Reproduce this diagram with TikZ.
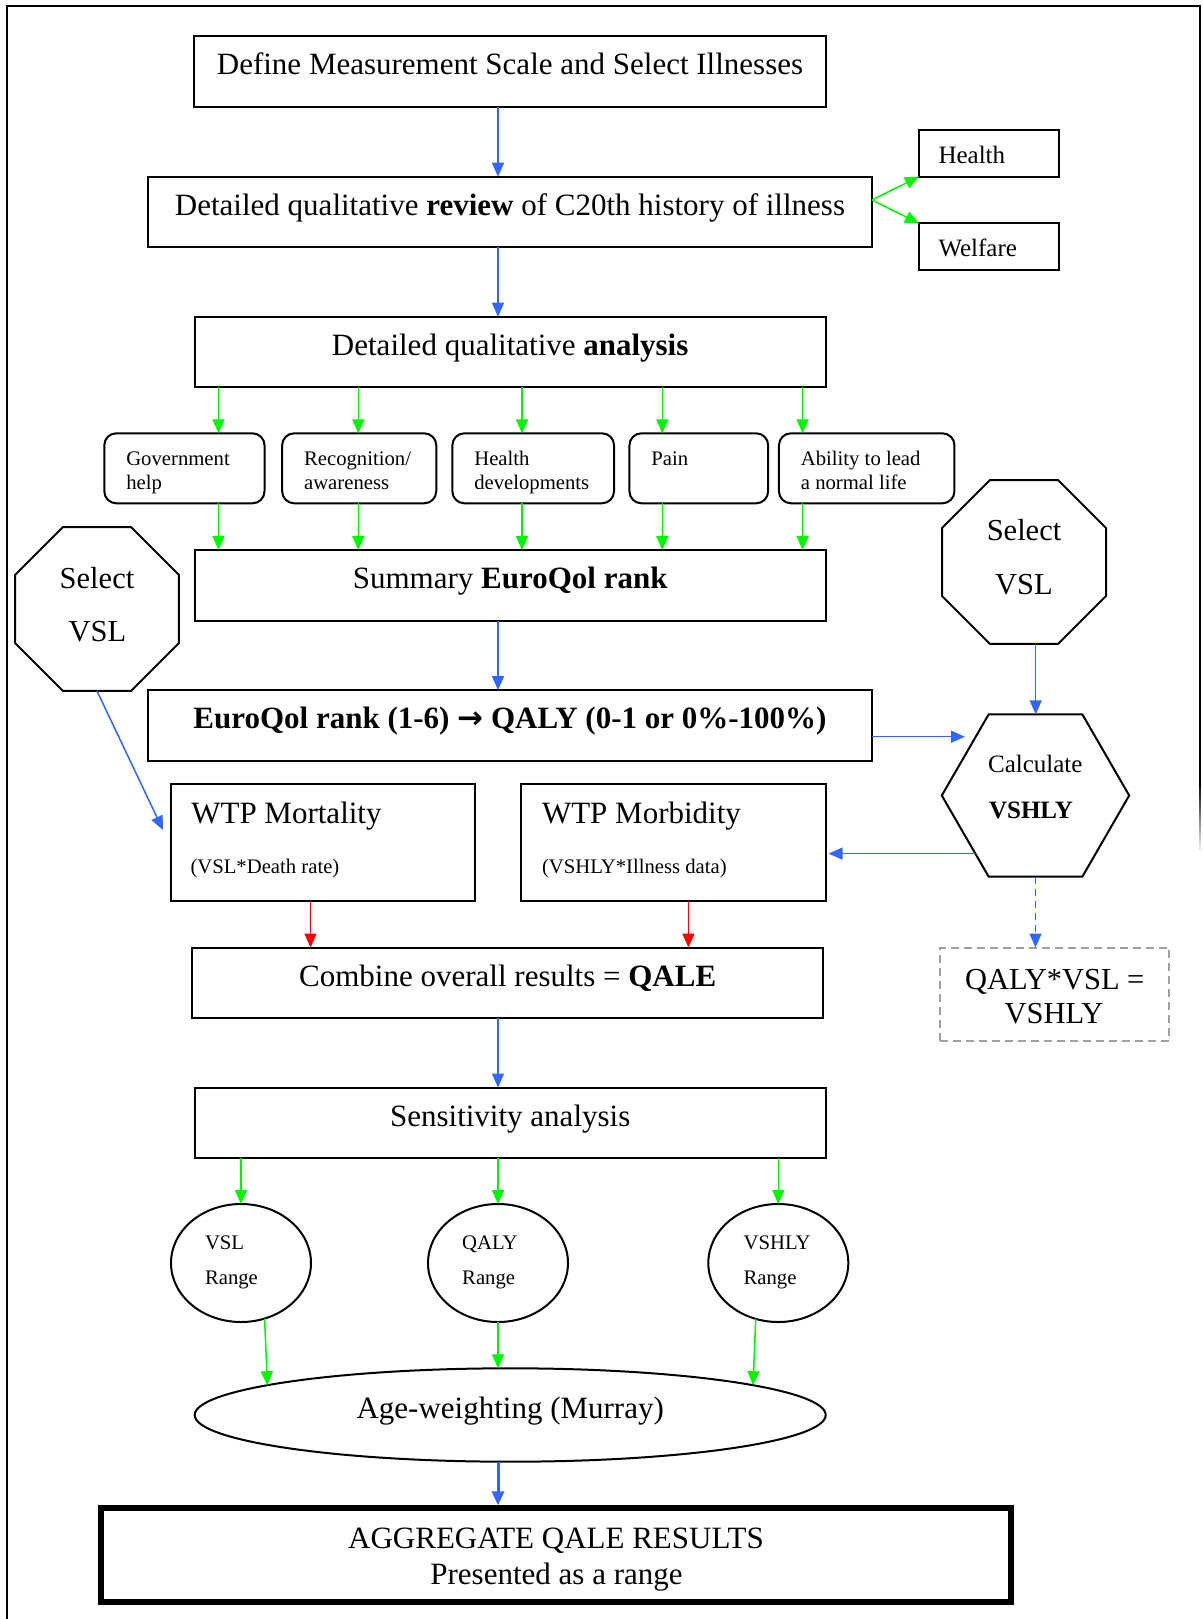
\documentclass[tikz,border=0pt]{standalone}
\usepackage{fontspec}
\setmainfont{Liberation Serif}
\newfontfamily\djv{DejaVu Sans}
\usetikzlibrary{arrows.meta,shapes.geometric,calc}
\definecolor{ablue}{RGB}{51,102,255}
\definecolor{agreen}{RGB}{0,245,0}
\definecolor{ared}{RGB}{255,0,0}
\definecolor{dgray}{RGB}{160,160,160}
\newcommand\ftbig{\fontsize{31}{37}\selectfont}
\newcommand\ftsel{\fontsize{30.5}{36}\selectfont}
\newcommand\ftmid{\fontsize{25}{30}\selectfont}
\newcommand\ftsm{\fontsize{20.7}{24}\selectfont}
\begin{document}
\begin{tikzpicture}[x=1pt,y=-1pt,
  mybox/.style={draw=black, line width=2pt, rectangle, inner sep=0pt, outer sep=0pt},
  myrbox/.style={mybox, rounded corners=12pt},
  mybig/.style={font=\ftbig, text height=21pt, text depth=14pt},
  myln/.style={anchor=base west, inner sep=0pt, outer sep=0pt},
  mylnc/.style={anchor=base, inner sep=0pt, outer sep=0pt},
  myoct/.style={draw=black, line width=2pt, regular polygon, regular polygon sides=8, minimum size=177.5pt, inner sep=0pt, outer sep=0pt},
  myhex/.style={draw=black, line width=2pt, regular polygon, regular polygon sides=6, minimum size=187.4pt, inner sep=0pt, outer sep=0pt},
  myell/.style={draw=black, line width=2pt, ellipse, inner sep=0pt, outer sep=0pt},
  myarr/.style={-{Triangle[length=14pt,width=12pt]}, line width=1.5pt},
  barr/.style={myarr, color=ablue},
  garr/.style={myarr, color=agreen},
  rarr/.style={myarr, color=ared},
]
\useasboundingbox (0,0) rectangle (1202,1619);
% outer frame
\draw[line width=2pt] (7.3,1619) -- (7.3,6) -- (1199.5,6) -- (1199.5,780);
\foreach \k in {0,...,13}{
  \pgfmathsetmacro\pc{100-7*\k}
  \draw[line width=2pt, black!\pc] (1199.5,780+5*\k) -- (1199.5,785+5*\k);
}

% helper x-lines
\coordinate (xm) at (498,0);
\coordinate (xv) at (1035.7,0);
\coordinate (fy) at (0,200);
\coordinate (g1) at (218.5,0);
\coordinate (g2) at (358.3,0);
\coordinate (g3) at (522,0);
\coordinate (g4) at (662.3,0);
\coordinate (g5) at (802.6,0);
\coordinate (r1) at (310.5,0);
\coordinate (r2) at (688.4,0);

% top boxes
\node[mybox, mybig, minimum width=632pt, minimum height=70.7pt] (b1) at (510,71.3) {Define Measurement Scale and Select Illnesses};
\node[mybox, mybig, minimum width=724pt, minimum height=70pt] (b2) at (510,211.7) {Detailed qualitative \textbf{review} of C20th history of illness};
\node[mybox, minimum width=140pt, minimum height=46.7pt] (hb) at (989,153.3) {};
\node[myln, font=\ftmid] (hbt) at (938.5,163.3) {Health};
\node[mybox, minimum width=140pt, minimum height=46.7pt] (wf) at (989,246.7) {};
\node[myln, font=\ftmid] (wft) at (938.5,256.7) {Welfare};
\node[mybox, mybig, minimum width=631pt, minimum height=70pt] (b3) at (510.2,351.7) {Detailed qualitative \textbf{analysis}};

% small rounded boxes
\node[myrbox, minimum width=160.2pt, minimum height=70pt] (s1) at (184.4,468.3) {};
\node[myrbox, minimum width=154.1pt, minimum height=70pt] (s2) at (359.2,468.3) {};
\node[myrbox, minimum width=161.7pt, minimum height=70pt] (s3) at (533.2,468.3) {};
\node[myrbox, minimum width=138.7pt, minimum height=70pt] (s4) at (698.8,468.3) {};
\node[myrbox, minimum width=175.5pt, minimum height=70pt] (s5) at (866.7,468.3) {};
\node[myln, font=\ftsm] (s1a) at (126.3,465) {Government};
\node[myln, font=\ftsm] (s1b) at (126.3,489) {help};
\node[myln, font=\ftsm] (s2a) at (304.1,465) {Recognition/};
\node[myln, font=\ftsm] (s2b) at (304.1,489) {awareness};
\node[myln, font=\ftsm] (s3a) at (474.3,465) {Health};
\node[myln, font=\ftsm] (s3b) at (474.3,489) {developments};
\node[myln, font=\ftsm] (s4a) at (651.4,465) {Pain};
\node[myln, font=\ftsm] (s5a) at (800.9,465) {Ability to lead};
\node[myln, font=\ftsm] (s5b) at (800.9,489) {a normal life};

\node[mybox, mybig, minimum width=631pt, minimum height=70.7pt] (sm) at (510.2,585.4) {Summary \textbf{EuroQol rank}};

% octagons
\node[myoct] (o1) at (97,609) {};
\node[mylnc, font=\ftsel] (o1a) at (97,588) {Select};
\node[mylnc, font=\ftsel] (o1b) at (97.5,641) {VSL};
\node[myoct] (o2) at (1024,562) {};
\node[mylnc, font=\ftsel] (o2a) at (1024,540) {Select};
\node[mylnc, font=\ftsel] (o2b) at (1024,594) {VSL};

\node[mybox, mybig, minimum width=724pt, minimum height=70.7pt] (eq) at (510,725.4) {\textbf{EuroQol rank (1-6) {\djv\bfseries →} QALY (0-1 or 0\%-100\%)}};

% hexagon
\node[myhex] (hx) at (1035.5,795.5) {};
\node[mylnc, font=\ftmid] (hxa) at (1035.3,772) {Calculate};
\node[mylnc, font=\ftmid] (hxb) at (1031,818) {\textbf{VSHLY}};

% WTP boxes
\node[mybox, minimum width=304pt, minimum height=117pt] (wm) at (323,842.5) {};
\node[myln, font=\ftbig] (wma) at (191.3,823) {WTP Mortality};
\node[myln, font=\ftsm] (wmb) at (190.5,873) {(VSL*Death rate)};
\node[mybox, minimum width=304.6pt, minimum height=117pt] (wb) at (673.3,842.5) {};
\node[myln, font=\ftbig] (wba) at (542,823) {WTP Morbidity};
\node[myln, font=\ftsm] (wbb) at (542,873) {(VSHLY*Illness data)};

\node[mybox, mybig, minimum width=630.6pt, minimum height=70.5pt] (cb) at (507.7,982.8) {Combine overall results = \textbf{QALE}};

% dashed box
\node[draw=dgray, line width=2pt, dash pattern=on 8pt off 5pt, rectangle, inner sep=0pt, outer sep=0pt, minimum width=229pt, minimum height=93.5pt] (db) at (1054.5,994.3) {};
\node[mylnc, font=\ftsel] (dba) at (1054.8,989) {QALY*VSL =};
\node[mylnc, font=\ftsel] (dbb) at (1054,1023) {VSHLY};

\node[mybox, mybig, minimum width=631pt, minimum height=70.5pt] (sv) at (510.2,1122.8) {Sensitivity analysis};

% range ellipses
\node[myell, minimum width=140pt, minimum height=118pt] (e1) at (241,1263) {};
\node[myell, minimum width=140pt, minimum height=118pt] (e2) at (498,1263) {};
\node[myell, minimum width=140pt, minimum height=118pt] (e3) at (778.3,1263) {};
\node[myln, font=\ftsm] (e1a) at (205,1249) {VSL};
\node[myln, font=\ftsm] (e1b) at (205,1284) {Range};
\node[myln, font=\ftsm] (e2a) at (462.2,1249) {QALY};
\node[myln, font=\ftsm] (e2b) at (462.2,1284) {Range};
\node[myln, font=\ftsm] (e3a) at (743.6,1249) {VSHLY};
\node[myln, font=\ftsm] (e3b) at (743.6,1284) {Range};

\node[myell, mybig, minimum width=631pt, minimum height=93.4pt] (ag) at (510.2,1415) {Age-weighting (Murray)};

\node[mybox, line width=6pt, minimum width=909.8pt, minimum height=93.7pt] (ar) at (556.1,1555.2) {};
\node[mylnc, font=\ftbig] (ara) at (556,1548.4) {AGGREGATE QALE RESULTS};
\node[mylnc, font=\ftbig] (arb) at (556.5,1584) {Presented as a range};

% connectors
\draw[barr] (b1.south -| xm) -- (b2.north -| xm);
\draw[barr] (b2.south -| xm) -- (b3.north -| xm);
\draw[garr] (b2.east |- fy) -- (hb.south west);
\draw[garr] (b2.east |- fy) -- (wf.north west);
\foreach \i in {1,...,5}{
  \draw[garr] (b3.south -| g\i) -- (s\i.north -| g\i);
  \draw[garr] (s\i.south -| g\i) -- (sm.north -| g\i);
}
\draw[barr] (sm.south -| xm) -- (eq.north -| xm);
\draw[barr] (o2.south -| xv) -- (hx.north -| xv);
\coordinate (eqt) at (965,736.7);
\draw[barr] (eq.east |- eqt) -- (eqt);
\draw[barr, shorten >=3pt] (hx.224) -- (wb.east |- hx.224);
\draw[barr, dash pattern=on 7pt off 5pt] (hx.south) -- (db.north -| hx.south);
\coordinate (wmt) at (163,830);
\draw[barr] (o1.south) -- (wmt);
\draw[rarr] (wm.south -| r1) -- (cb.north -| r1);
\draw[rarr] (wb.south -| r2) -- (cb.north -| r2);
\draw[barr] (cb.south -| xm) -- (sv.north -| xm);
\draw[garr] (sv.south -| e1.north) -- (e1.north);
\draw[garr] (sv.south -| e2.north) -- (e2.north);
\draw[garr] (sv.south -| e3.north) -- (e3.north);
\draw[garr] (e1.-67) -- (ag.173);
\draw[garr] (e2.south) -- (ag.north -| e2.south);
\draw[garr] (e3.-112) -- (ag.7);
\draw[barr, line width=3pt, shorten >=3pt] (ag.south -| xm) -- (ar.north -| xm);
\end{tikzpicture}
\end{document}
